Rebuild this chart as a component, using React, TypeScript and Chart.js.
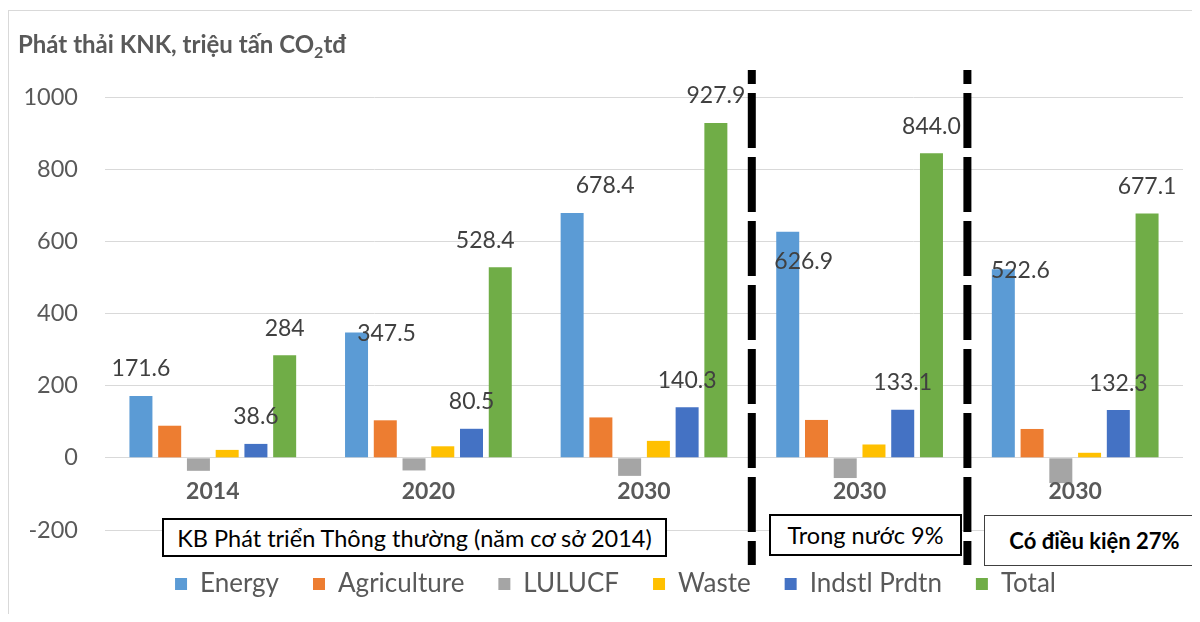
import React, { useEffect, useRef } from "react";
import { Chart, registerables } from "chart.js";

Chart.register(...registerables);

const categories = ["2014", "2020", "2030", "2030", "2030"];
const seriesNames = ["Energy", "Agriculture", "LULUCF", "Waste", "Indstl Prdtn", "Total"];
const energy = [171.6, 347.5, 678.4, 626.9, 522.6];
const agriculture = [89, 104, 112, 105, 80];
const lulucf = [-36, -35, -50, -56, -70];
const waste = [22, 32, 47, 37, 14];
const indstl = [38.6, 80.5, 140.3, 133.1, 132.3];
const total = [284, 528.4, 927.9, 844.0, 677.1];
const totalDigits = [0, 1, 1, 1, 1];
const yMin = -200;
const yMax = 1000;
const yStep = 200;
const scenarioLabels = [
  "KB Phát triển Thông thường (năm cơ sở 2014)",
  "Trong nước 9%",
  "Có điều kiện 27%",
];

const COLORS = ["#5B9BD5", "#ED7D31", "#A5A5A5", "#FFC000", "#4472C4", "#70AD47"];
const FONT = "Lato";
const GREY_TEXT = "#595959";
const LEGEND_SHIFT_X = 20;

// label placement tweaks (style only), [dx, dy] per category
const labelShift: Record<number, number[][]> = {
  0: [[0, 0], [30, 28], [33, 0], [16, 57], [17, 28]],
  4: [[0, 0], [0, 0], [0, 0], [0, 0], [0, 0]],
  5: [[0, 0], [-15, 0], [0, 0], [0, 0], [0, 0]],
};

const overlayPlugin = {
  id: "overlay",
  afterLayout(chart: any) {
    if (chart.legend) {
      chart.legend.left += LEGEND_SHIFT_X;
      chart.legend.right += LEGEND_SHIFT_X;
    }
  },
  afterDatasetsDraw(chart: any) {
    const ctx = chart.ctx;
    const xs = chart.scales.x;
    const ys = chart.scales.y;
    ctx.save();
    ctx.font = `23px ${FONT}`;
    ctx.fillStyle = "#404040";
    ctx.textAlign = "center";
    ctx.textBaseline = "middle";
    [0, 4, 5].forEach((di) => {
      const meta = chart.getDatasetMeta(di);
      const vals = chart.data.datasets[di].data as number[];
      meta.data.forEach((bar: any, i: number) => {
        const v = vals[i];
        const digits = di === 5 ? totalDigits[i] : 1;
        const [dx, dy] = labelShift[di][i];
        ctx.fillText(v.toFixed(digits), bar.x + dx, bar.y - 27 + dy);
      });
    });
    ctx.font = `bold 23px ${FONT}`;
    ctx.fillStyle = GREY_TEXT;
    const y0 = ys.getPixelForValue(0);
    categories.forEach((c, i) => {
      ctx.fillText(c, xs.getPixelForValue(i), y0 + 34);
    });
    ctx.restore();
  },
  afterDraw(chart: any) {
    const ctx = chart.ctx;
    const xs = chart.scales.x;
    const area = chart.chartArea;
    ctx.save();
    ctx.strokeStyle = "#000000";
    ctx.lineWidth = 8;
    ctx.setLineDash([55, 9]);
    ctx.lineDashOffset = 41;
    [2, 3].forEach((i) => {
      const x = (xs.getPixelForValue(i) + xs.getPixelForValue(i + 1)) / 2;
      ctx.beginPath();
      ctx.moveTo(x, area.top - 27);
      ctx.lineTo(x, area.bottom + 35);
      ctx.stroke();
    });
    ctx.restore();
  },
};

export default function App() {
  const canvasRef = useRef<HTMLCanvasElement | null>(null);

  useEffect(() => {
    if (!canvasRef.current) return;
    const seriesData = [energy, agriculture, lulucf, waste, indstl, total];
    const chart = new Chart(canvasRef.current, {
      type: "bar",
      data: {
        labels: categories,
        datasets: seriesNames.map((name, k) => ({
          label: name,
          data: seriesData[k],
          backgroundColor: COLORS[k],
          borderWidth: 0,
          categoryPercentage: 0.8,
          barPercentage: 0.8,
        })),
      },
      options: {
        responsive: false,
        animation: false,
        layout: { padding: { top: 89, right: 9, left: 0, bottom: 7 } },
        scales: {
          x: {
            display: true,
            ticks: { display: false },
            grid: { display: false, drawTicks: false },
            border: { display: false },
            afterFit: (s: any) => {
              s.height = 7;
            },
          },
          y: {
            min: yMin,
            max: yMax,
            ticks: {
              stepSize: yStep,
              padding: 27,
              color: GREY_TEXT,
              font: { family: FONT, size: 23.5 },
              callback: (v: any) => String(v),
            },
            grid: { color: "#d9d9d9", lineWidth: 1, drawTicks: false },
            border: { display: false },
            afterFit: (s: any) => {
              s.width = 97;
            },
          },
        },
        plugins: {
          legend: {
            position: "bottom",
            labels: {
              boxWidth: 12,
              boxHeight: 12,
              padding: 34,
              color: GREY_TEXT,
              font: { family: FONT, size: 26 },
            },
          },
          tooltip: { enabled: false },
        },
      },
      plugins: [overlayPlugin],
    });
    return () => chart.destroy();
  }, []);

  const boxBase: React.CSSProperties = {
    position: "absolute",
    background: "#ffffff",
    boxSizing: "border-box",
    display: "flex",
    alignItems: "center",
    justifyContent: "center",
    color: "#000000",
    fontFamily: FONT,
    whiteSpace: "nowrap",
  };

  return (
    <div style={{ position: "relative", width: 1184, height: 606, overflow: "hidden", fontFamily: FONT }}>
      <div style={{ position: "absolute", left: 0, top: 2, width: "100%", height: 1, background: "#d9d9d9" }} />
      <div style={{ position: "absolute", left: 0, top: 2, width: 1, height: "100%", background: "#d9d9d9" }} />
      <canvas ref={canvasRef} width={1184} height={606} style={{ position: "absolute", left: 0, top: 0 }} />
      <div
        style={{
          position: "absolute",
          left: 10,
          top: 21,
          fontSize: 24,
          fontWeight: "bold",
          color: GREY_TEXT,
          whiteSpace: "nowrap",
        }}
      >
        Phát thải KNK, triệu tấn CO<sub style={{ fontSize: 16, verticalAlign: "-5px" }}>2</sub>tđ
      </div>
      <div style={{ ...boxBase, left: 154, top: 510, width: 505, height: 39, border: "2px solid #000", fontSize: 23.5 }}>
        {scenarioLabels[0]}
      </div>
      <div style={{ ...boxBase, left: 761, top: 506, width: 193, height: 42, border: "2px solid #000", fontSize: 23.5 }}>
        {scenarioLabels[1]}
      </div>
      <div
        style={{
          ...boxBase,
          left: 976,
          top: 507,
          width: 221,
          height: 51,
          border: "1.5px solid #404040",
          fontSize: 22,
          fontWeight: "bold",
        }}
      >
        {scenarioLabels[2]}
      </div>
    </div>
  );
}
